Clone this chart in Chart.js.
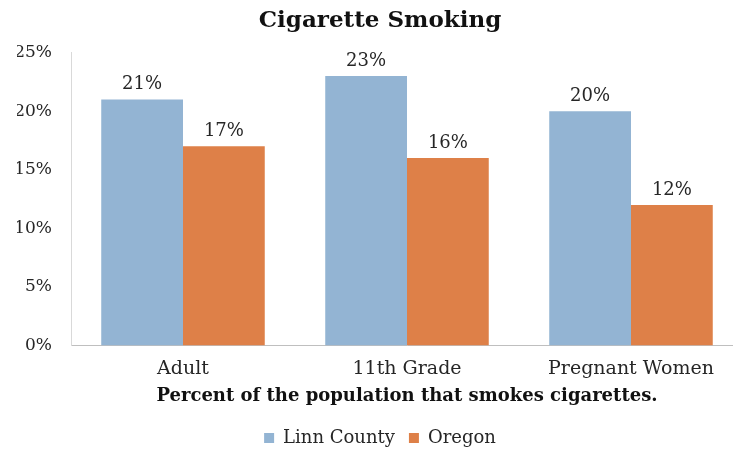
<!DOCTYPE html>
<html>
<head>
<meta charset="utf-8">
<script src="https://cdn.jsdelivr.net/npm/chart.js@4"></script>
<style>
  html, body { margin: 0; padding: 0; background: #fff; overflow: hidden; }
  #wrap { width: 760px; height: 453px; }
</style>
</head>
<body>
<div id="wrap"><canvas id="smokeChart"></canvas></div>
<script>
// Dữ liệu biểu đồ
const categories = ["Adult", "11th Grade", "Pregnant Women"];
const linnCounty = [21, 23, 20];
const oregon = [17, 16, 12];
const yTicks = [0, 5, 10, 15, 20, 25];

const serif = "'DejaVu Serif', Georgia, serif";

// Plugin vẽ nhãn giá trị trên cột
const valueLabels = {
  id: "valueLabels",
  afterDatasetsDraw(chart) {
    const ctx = chart.ctx;
    ctx.save();
    ctx.font = "18px " + serif;
    ctx.fillStyle = "#262626";
    ctx.textAlign = "center";
    ctx.textBaseline = "bottom";
    chart.data.datasets.forEach((ds, i) => {
      chart.getDatasetMeta(i).data.forEach((bar, j) => {
        ctx.fillText(ds.data[j] + "%", bar.x, bar.y - 6);
      });
    });
    ctx.restore();
  },
};

new Chart(document.getElementById("smokeChart").getContext("2d"), {
  type: "bar",
  data: {
    labels: categories,
    datasets: [
      { label: "Linn County", data: linnCounty, backgroundColor: "#93b4d3" },
      { label: "Oregon", data: oregon, backgroundColor: "#de8048" },
    ],
  },
  options: {
    responsive: true,
    maintainAspectRatio: false,
    animation: false,
    layout: { padding: { top: 7, right: 17, bottom: -4, left: 17 } },
    datasets: { bar: { categoryPercentage: 0.73, barPercentage: 1 } },
    plugins: {
      title: {
        display: true,
        text: "Cigarette Smoking",
        font: { family: serif, size: 23, weight: "bold" },
        color: "#111",
        padding: { top: 0, bottom: 18 },
      },
      legend: {
        position: "bottom",
        labels: {
          font: { family: serif, size: 18 },
          color: "#262626",
          boxWidth: 10,
          boxHeight: 10,
          padding: 14,
        },
      },
      tooltip: { enabled: false },
    },
    scales: {
      x: {
        grid: { display: false, drawTicks: false },
        border: { color: "#bfbfbf" },
        ticks: { font: { family: serif, size: 19 }, color: "#262626", padding: 12 },
        title: {
          display: true,
          text: "Percent of the population that smokes cigarettes.",
          font: { family: serif, size: 18, weight: "bold" },
          color: "#111",
          padding: { top: -7, bottom: 8 },
        },
      },
      y: {
        min: 0,
        max: 25,
        afterBuildTicks(axis) {
          axis.ticks = yTicks.map((v) => ({ value: v }));
        },
        afterFit(axis) {
          axis.width = 54; // cố định bề rộng trục Y
        },
        grid: { display: false, drawTicks: false },
        border: { color: "#d9d9d9" },
        ticks: {
          font: { family: serif, size: 17 },
          color: "#262626",
          padding: 19,
          callback: (v) => v + "%",
        },
      },
    },
  },
  plugins: [valueLabels],
});
</script>
</body>
</html>
